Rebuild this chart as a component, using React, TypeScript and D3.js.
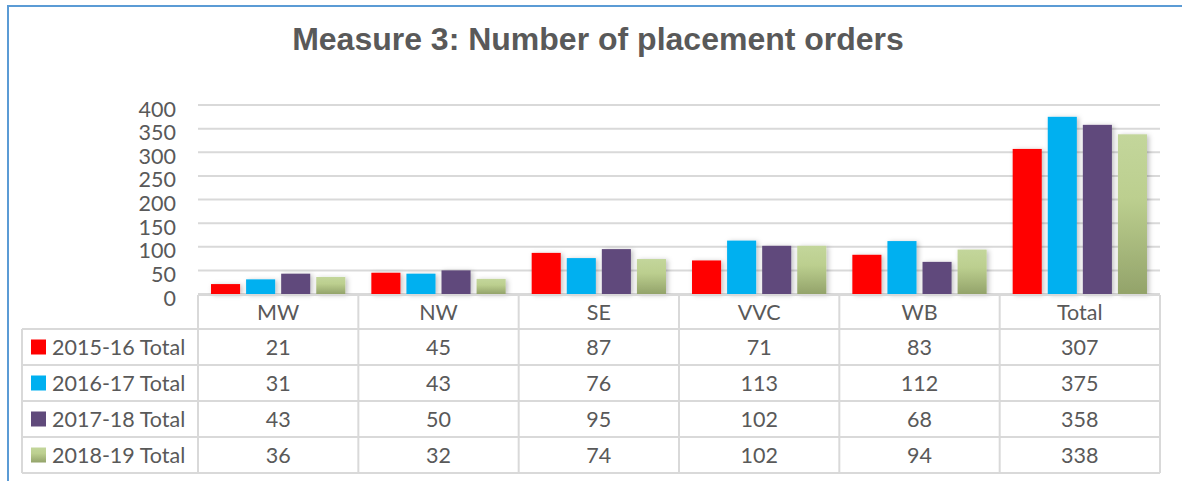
import React, { useEffect, useRef } from "react";
import * as d3 from "d3";

const categories = ["MW", "NW", "SE", "VVC", "WB", "Total"];
const seriesNames = ["2015-16 Total", "2016-17 Total", "2017-18 Total", "2018-19 Total"];
const values2015 = [21, 45, 87, 71, 83, 307];
const values2016 = [31, 43, 76, 113, 112, 375];
const values2017 = [43, 50, 95, 102, 68, 358];
const values2018 = [36, 32, 74, 102, 94, 338];
const yTicks = [0, 50, 100, 150, 200, 250, 300, 350, 400];
const colors = ["#ff0000", "#00b0f0", "#604a7b", "url(#greenGrad)"];

const App: React.FC = () => {
  const svgRef = useRef<SVGSVGElement | null>(null);

  useEffect(() => {
    if (!svgRef.current) return;
    const width = 1182;
    const height = 481;
    const font = "Lato, 'Open Sans', sans-serif";
    const fontSize = "21.5px";
    const textColor = "#595959";
    const lineColor = "#d9d9d9";
    const series = [values2015, values2016, values2017, values2018];

    const svg = d3.select(svgRef.current).attr("width", width).attr("height", height);
    svg.selectAll("*").remove();

    const defs = svg.append("defs");
    const grad = defs
      .append("linearGradient")
      .attr("id", "greenGrad")
      .attr("x1", 0)
      .attr("y1", 0)
      .attr("x2", 0)
      .attr("y2", 1);
    grad.append("stop").attr("offset", "0%").attr("stop-color", "#c3d69b");
    grad.append("stop").attr("offset", "40%").attr("stop-color", "#bccf8f");
    grad.append("stop").attr("offset", "100%").attr("stop-color", "#93a36a");

    const shadow = defs
      .append("filter")
      .attr("id", "barShadow")
      .attr("x", "-30%")
      .attr("y", "-10%")
      .attr("width", "160%")
      .attr("height", "120%");
    shadow
      .append("feDropShadow")
      .attr("dx", 2)
      .attr("dy", 1)
      .attr("stdDeviation", 2.5)
      .attr("flood-color", "#000")
      .attr("flood-opacity", 0.25);

    // chart frame (blue border)
    svg
      .append("path")
      .attr("d", `M8,${height} L8,6 L${width},6`)
      .attr("fill", "none")
      .attr("stroke", "#5b9bd5")
      .attr("stroke-width", 2);

    // title
    svg
      .append("text")
      .attr("x", 598)
      .attr("y", 50)
      .attr("text-anchor", "middle")
      .attr("fill", textColor)
      .style("font-family", "'Liberation Sans', Arial, sans-serif")
      .style("font-weight", "bold")
      .style("font-size", "32px")
      .text("Measure 3: Number of placement orders");

    const x = d3.scaleBand().domain(categories).range([198, 1160]);
    const xInner = d3
      .scaleBand()
      .domain(seriesNames)
      .range([0, x.bandwidth()])
      .paddingInner(0.171)
      .paddingOuter(0.371);
    const y = d3.scaleLinear().domain([0, 400]).range([294, 105]);

    // gridlines + tick labels
    svg
      .append("g")
      .selectAll("line")
      .data(yTicks)
      .enter()
      .append("line")
      .attr("x1", 198)
      .attr("x2", 1160)
      .attr("y1", (d) => y(d))
      .attr("y2", (d) => y(d))
      .attr("stroke", lineColor)
      .attr("stroke-width", 2);

    svg
      .append("g")
      .selectAll("text")
      .data(yTicks)
      .enter()
      .append("text")
      .attr("x", 176)
      .attr("y", (d) => y(d) + 4)
      .attr("dy", "0.35em")
      .attr("text-anchor", "end")
      .attr("fill", textColor)
      .style("font-family", font)
      .style("font-size", fontSize)
      .text((d) => d);

    // bars
    series.forEach((vals, si) => {
      svg
        .append("g")
        .attr("filter", "url(#barShadow)")
        .selectAll("rect")
        .data(vals)
        .enter()
        .append("rect")
        .attr("x", (_, i) => x(categories[i])! + xInner(seriesNames[si])!)
        .attr("y", (d) => y(d))
        .attr("width", xInner.bandwidth())
        .attr("height", (d) => y(0) - y(d))
        .attr("fill", colors[si]);
    });

    // data table
    const headerTop = 295;
    const rowTop = 329;
    const rowH = 36;
    const tableLeft = 22;
    const tableRight = 1160;
    const table = svg.append("g");
    const rowYs = d3.range(seriesNames.length + 1).map((i) => rowTop + i * rowH);

    table
      .append("line")
      .attr("x1", 198)
      .attr("x2", tableRight)
      .attr("y1", headerTop)
      .attr("y2", headerTop)
      .attr("stroke", lineColor)
      .attr("stroke-width", 2);
    table
      .selectAll(".hline")
      .data(rowYs)
      .enter()
      .append("line")
      .attr("x1", tableLeft)
      .attr("x2", tableRight)
      .attr("y1", (d) => d)
      .attr("y2", (d) => d)
      .attr("stroke", lineColor)
      .attr("stroke-width", 2);
    const colXs = categories.map((c) => x(c)!).concat([tableRight]);
    table
      .selectAll(".vline")
      .data(colXs)
      .enter()
      .append("line")
      .attr("x1", (d) => d)
      .attr("x2", (d) => d)
      .attr("y1", headerTop)
      .attr("y2", rowYs[rowYs.length - 1])
      .attr("stroke", lineColor)
      .attr("stroke-width", 2);
    table
      .append("line")
      .attr("x1", tableLeft)
      .attr("x2", tableLeft)
      .attr("y1", rowTop)
      .attr("y2", rowYs[rowYs.length - 1])
      .attr("stroke", lineColor)
      .attr("stroke-width", 2);

    // header labels
    table
      .selectAll(".cat")
      .data(categories)
      .enter()
      .append("text")
      .attr("x", (d) => x(d)! + x.bandwidth() / 2)
      .attr("y", (headerTop + rowTop) / 2)
      .attr("dy", "0.35em")
      .attr("text-anchor", "middle")
      .attr("fill", textColor)
      .style("font-family", font)
      .style("font-size", fontSize)
      .text((d) => d);

    seriesNames.forEach((name, si) => {
      const cy = rowTop + si * rowH + rowH / 2;
      table
        .append("rect")
        .attr("x", 31)
        .attr("y", cy - 7.5)
        .attr("width", 15)
        .attr("height", 15)
        .attr("fill", colors[si]);
      table
        .append("text")
        .attr("x", 52)
        .attr("y", cy)
        .attr("dy", "0.35em")
        .attr("fill", textColor)
        .style("font-family", font)
        .style("font-size", fontSize)
        .text(name);
      table
        .append("g")
        .selectAll("text")
        .data(series[si])
        .enter()
        .append("text")
        .attr("x", (_, i) => x(categories[i])! + x.bandwidth() / 2)
        .attr("y", cy)
        .attr("dy", "0.35em")
        .attr("text-anchor", "middle")
        .attr("fill", textColor)
        .style("font-family", font)
        .style("font-size", fontSize)
        .text((d) => d);
    });
  }, []);

  return (
    <svg
      ref={svgRef}
      style={{ position: "absolute", left: 0, top: 0, background: "#fff" }}
    ></svg>
  );
};

export default App;
